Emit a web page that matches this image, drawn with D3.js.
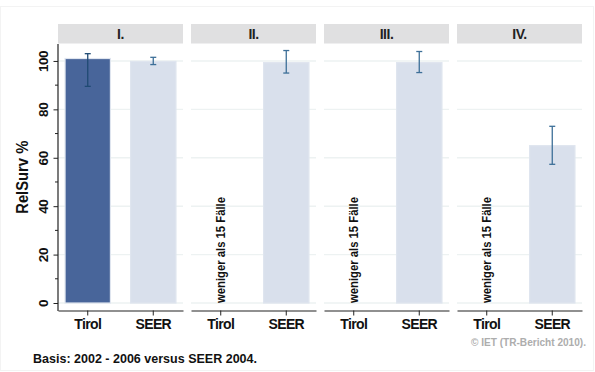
<!DOCTYPE html>
<html><head><meta charset="utf-8">
<script src="https://cdn.jsdelivr.net/npm/d3@7"></script>
<style>
html,body{margin:0;padding:0;background:#fff;}
text{font-family:"Liberation Sans",Arial,sans-serif;font-weight:bold;}
</style></head>
<body><svg id="chart" width="595" height="372"></svg>
<script>
const panels = ["I.", "II.", "III.", "IV."];
const groups = ["Tirol", "SEER"];
const tirolValues = [101.0, null, null, null];
const tirolLower = [89.5, null, null, null];
const tirolUpper = [103.0, null, null, null];
const seerValues = [99.8, 99.3, 99.3, 65.0];
const seerLower = [98.5, 95.0, 95.2, 57.3];
const seerUpper = [101.5, 104.3, 103.9, 73.0];
const noteText = "weniger als 15 Fälle";
const yTicks = [0, 20, 40, 60, 80, 100];
const yMinorTicks = [10, 30, 50, 70, 90];
const yTitle = "RelSurv %";
const footerText = "Basis: 2002 - 2006 versus SEER 2004.";
const creditText = "© IET (TR-Bericht 2010).";

const svg = d3.select("#chart");
const plotTop = 44, plotBottom = 303, axisY = 310.5;

// faint outer frame
svg.append("rect").attr("x", 0.5).attr("y", 6.5).attr("width", 593).attr("height", 364)
  .attr("fill", "none").attr("stroke", "#f3f3f3");

const xPanel = d3.scaleBand().domain(panels).range([58, 582]).paddingInner(8 / 133);
const xGroup = d3.scaleBand().domain(groups).range([0, xPanel.bandwidth()])
  .paddingInner(0.3077).paddingOuter(0.1077);
const y = d3.scaleLinear().domain([0, 107]).range([plotBottom, plotTop]);

const colors = { Tirol: "#48659a", SEER: "#d9e0ec" };
const errColors = { Tirol: "#1f4a73", SEER: "#3d6f98" };

panels.forEach((p, i) => {
  const g = svg.append("g").attr("transform", `translate(${xPanel(p)},0)`);
  const w = xPanel.bandwidth();
  // header
  g.append("rect").attr("x", 0).attr("y", 24).attr("width", w).attr("height", 19.5).attr("fill", "#e0e0e1");
  g.append("text").attr("x", w / 2).attr("y", 39).attr("text-anchor", "middle")
    .attr("font-size", 14).attr("letter-spacing", -0.5).attr("fill", "#222").text(p);
  // gridlines
  g.selectAll("line.grid").data(yTicks).join("line").attr("class", "grid")
    .attr("x1", 0).attr("x2", w).attr("y1", d => y(d)).attr("y2", d => y(d))
    .attr("stroke", "#edf2f2").attr("stroke-width", 1.4);
  // data
  const rows = [
    { group: "Tirol", v: tirolValues[i], lo: tirolLower[i], hi: tirolUpper[i] },
    { group: "SEER", v: seerValues[i], lo: seerLower[i], hi: seerUpper[i] }
  ];
  rows.forEach(r => {
    const bx = xGroup(r.group), bw = xGroup.bandwidth(), cx = bx + bw / 2;
    if (r.v == null) {
      g.append("text").attr("transform", `translate(${cx + 4},${plotBottom}) rotate(-90)`)
        .attr("font-size", 12).attr("textLength", 106).attr("lengthAdjust", "spacingAndGlyphs")
        .attr("fill", "#111").text(noteText);
      return;
    }
    g.append("rect").attr("x", bx).attr("y", y(r.v)).attr("width", bw).attr("height", y(0) - y(r.v))
      .attr("fill", colors[r.group]).attr("stroke", "#dfe5ef").attr("stroke-width", 1.2);
    const ec = errColors[r.group];
    g.append("line").attr("x1", cx).attr("x2", cx).attr("y1", y(r.lo)).attr("y2", y(r.hi))
      .attr("stroke", ec).attr("stroke-width", 1.3);
    [r.lo, r.hi].forEach(v => g.append("line").attr("x1", cx - 3).attr("x2", cx + 3)
      .attr("y1", y(v)).attr("y2", y(v)).attr("stroke", ec).attr("stroke-width", 1.3));
  });
  // x axis
  const xAxis = d3.axisBottom(xGroup).tickSize(5).tickSizeOuter(0).tickPadding(4);
  const ax = g.append("g").attr("transform", `translate(0,${axisY})`).call(xAxis);
  ax.select(".domain").attr("stroke", "#222").attr("stroke-width", 1.2);
  ax.selectAll(".tick line").attr("stroke", "#222");
  ax.selectAll(".tick text").attr("font-size", 14).attr("letter-spacing", -0.6)
    .attr("fill", "#111").attr("font-family", "Liberation Sans").attr("font-weight", "bold");
});

// y axis
const yAxis = d3.axisLeft(y).tickValues(yTicks).tickSize(4.5).tickSizeOuter(0).tickPadding(4);
const ya = svg.append("g").attr("transform", "translate(58,0)").call(yAxis);
ya.select(".domain").remove();
ya.append("line").attr("x1", 0).attr("x2", 0).attr("y1", plotTop).attr("y2", axisY + 0.6)
  .attr("stroke", "#222").attr("stroke-width", 1.2);
ya.selectAll(".tick line").attr("stroke", "#222");
ya.selectAll(".tick text").attr("font-size", 13.5).attr("letter-spacing", -0.4).attr("fill", "#111")
  .attr("font-family", "Liberation Sans").attr("font-weight", "bold")
  .attr("text-anchor", "middle").attr("transform", "rotate(-90)")
  .attr("x", 0).attr("y", -10).attr("dy", 0);
svg.append("g").attr("transform", "translate(58,0)").selectAll("line").data(yMinorTicks).join("line")
  .attr("x1", -3).attr("x2", 0).attr("y1", d => y(d)).attr("y2", d => y(d)).attr("stroke", "#222");

// y title
svg.append("text").attr("transform", `translate(28,${(plotTop + axisY) / 2}) rotate(-90)`)
  .attr("text-anchor", "middle").attr("font-size", 16)
  .attr("textLength", 73).attr("lengthAdjust", "spacingAndGlyphs")
  .attr("fill", "#111").text(yTitle);

// footer
svg.append("text").attr("x", 33).attr("y", 363).attr("font-size", 13)
  .attr("textLength", 224).attr("lengthAdjust", "spacingAndGlyphs")
  .attr("fill", "#111").text(footerText);
svg.append("text").attr("x", 586).attr("y", 346).attr("text-anchor", "end").attr("font-size", 11)
  .attr("textLength", 115).attr("lengthAdjust", "spacingAndGlyphs")
  .attr("fill", "#adadad").text(creditText);
</script></body></html>
